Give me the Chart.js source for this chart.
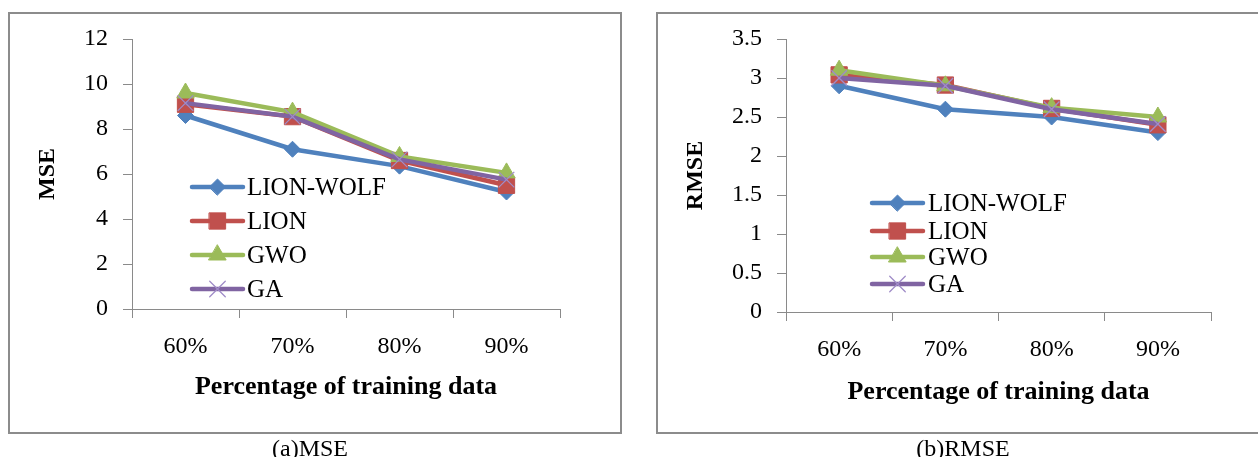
<!DOCTYPE html>
<html><head><meta charset="utf-8">
<script src="https://cdn.jsdelivr.net/npm/chart.js@4.4.1/dist/chart.umd.min.js"></script>
<style>
html,body{margin:0;padding:0;background:#fff;width:1258px;height:457px;overflow:hidden;position:relative;font-family:"Liberation Serif",serif;}
.panel{position:absolute;border:2px solid #8c8c8c;box-sizing:border-box;}
#pa{left:8px;top:12px;width:614px;height:422px;}
#pb{left:656px;top:12px;width:640px;height:422px;}
.cap{position:absolute;top:434px;font-size:24px;line-height:28px;width:300px;text-align:center;color:#000;}
canvas{position:absolute;top:0;}
</style></head>
<body>
<div class="panel" id="pa"></div>
<div class="panel" id="pb"></div>
<canvas id="cA" width="640" height="457" style="left:0"></canvas>
<canvas id="cB" width="618" height="457" style="left:640px"></canvas>
<div class="cap" style="left:160px">(a)MSE</div>
<div class="cap" style="left:813px">(b)RMSE</div>
<script>
// ---- data ----
const categories = ["60%", "70%", "80%", "90%"];
const seriesNames = ["LION-WOLF", "LION", "GWO", "GA"];
const mseLionWolf = [8.6, 7.1, 6.35, 5.2];
const mseLion = [9.1, 8.55, 6.6, 5.5];
const mseGwo = [9.6, 8.75, 6.78, 6.05];
const mseGa = [9.15, 8.55, 6.65, 5.75];
const rmseLionWolf = [2.9, 2.6, 2.5, 2.3];
const rmseLion = [3.04, 2.91, 2.61, 2.4];
const rmseGwo = [3.1, 2.9, 2.62, 2.5];
const rmseGa = [3.0, 2.9, 2.6, 2.41];
const mseTicks = {min: 0, max: 12, step: 2};
const rmseTicks = {min: 0, max: 3.5, step: 0.5};

// ---- styles ----
const styles = [
  {color: "#4F81BD", ptColor: "#4F81BD", pointStyle: "rectRot", radius: 8, pbw: 1},
  {color: "#C0504D", ptColor: "#C0504D", pointStyle: "rect", radius: 11.5, pbw: 1},
  {color: "#9BBB59", ptColor: "#9BBB59", pointStyle: "triangle", radius: 10, pbw: 1},
  {color: "#8064A2", ptColor: "#A08CC8", pointStyle: "crossRot", radius: 11, pbw: 1.3}
];
const AXIS = "#8a8a8a";
const FONT = "'Liberation Serif', 'Times New Roman', serif";

function makeDatasets(arrs) {
  return arrs.map((d, i) => ({
    label: seriesNames[i],
    data: d,
    borderColor: styles[i].color,
    backgroundColor: styles[i].color,
    borderWidth: 4.5,
    pointStyle: styles[i].pointStyle,
    pointRadius: styles[i].radius,
    pointHoverRadius: styles[i].radius,
    pointBackgroundColor: styles[i].ptColor,
    pointBorderColor: styles[i].ptColor,
    pointBorderWidth: styles[i].pbw,
    tension: 0,
    order: arrs.length - i
  }));
}

const insideLegend = {
  id: "insideLegend",
  afterDatasetsDraw(chart, args, opts) {
    const ctx = chart.ctx;
    ctx.save();
    chart.data.datasets.forEach((ds, i) => {
      const y = opts.rows[i];
      ctx.strokeStyle = ds.borderColor;
      ctx.lineWidth = ds.borderWidth;
      ctx.lineCap = "round";
      ctx.beginPath();
      ctx.moveTo(opts.x0, y);
      ctx.lineTo(opts.x1, y);
      ctx.stroke();
      ctx.fillStyle = ds.pointBackgroundColor;
      ctx.strokeStyle = ds.pointBorderColor;
      ctx.lineWidth = ds.pointBorderWidth;
      Chart.helpers.drawPoint(ctx, {pointStyle: ds.pointStyle, radius: ds.pointRadius, borderWidth: ds.pointBorderWidth, rotation: 0}, (opts.x0 + opts.x1) / 2, y);
      ctx.fillStyle = "#000";
      ctx.font = opts.fontSize + "px " + FONT;
      ctx.textBaseline = "middle";
      ctx.textAlign = "left";
      ctx.fillText(ds.label, opts.tx, y + 1);
    });
    ctx.restore();
  }
};

function makeChart(id, arrs, tk, yTitle, lay) {
  return new Chart(document.getElementById(id), {
    type: "line",
    data: {labels: categories, datasets: makeDatasets(arrs)},
    plugins: [insideLegend],
    options: {
      responsive: false,
      animation: false,
      events: [],
      layout: {padding: {left: lay.padL, right: lay.padR, top: lay.padT, bottom: lay.padB}},
      plugins: {
        legend: {display: false},
        tooltip: {enabled: false},
        insideLegend: lay.legend
      },
      scales: {
        x: {
          offset: true,
          grid: {display: true, offset: true, drawOnChartArea: false, drawTicks: true, tickLength: 9, color: AXIS},
          border: {display: true, color: AXIS, width: 1},
          ticks: {color: "#000", padding: 14, font: {family: FONT, size: 24}, maxRotation: 0},
          title: {display: true, text: "Percentage of training data", color: "#000",
                  font: {family: FONT, size: 26, weight: "bold"}, padding: {top: 0, bottom: lay.xTitlePadB}},
          afterFit(s) { s.height = lay.xH; }
        },
        y: {
          min: tk.min, max: tk.max,
          grid: {display: true, drawOnChartArea: false, drawTicks: true, tickLength: 9, color: AXIS},
          border: {display: true, color: AXIS, width: 1},
          ticks: {stepSize: tk.step, color: "#000", padding: 15, font: {family: FONT, size: 24},
                  callback: (v) => String(+Number(v).toFixed(2))},
          title: {display: true, text: yTitle, color: "#000",
                  font: {family: FONT, size: 24, weight: "bold"}, padding: {top: lay.yTitlePadT, bottom: 0}},
          afterFit(s) { s.width = lay.yW; }
        }
      }
    }
  });
}

makeChart("cA", [mseLionWolf, mseLion, mseGwo, mseGa], mseTicks, "MSE", {
  padL: 20, padR: 80, padT: 39, padB: 48, yW: 112, xH: 100, xTitlePadB: 6, yTitlePadT: 13,
  legend: {x0: 192, x1: 243, tx: 247, rows: [187, 221, 255, 289], fontSize: 25}
});
makeChart("cB", [rmseLionWolf, rmseLion, rmseGwo, rmseGa], rmseTicks, "RMSE", {
  padL: 20, padR: 47, padT: 39, padB: 45, yW: 126, xH: 100, xTitlePadB: 4, yTitlePadT: 21,
  legend: {x0: 232, x1: 283, tx: 288, rows: [203, 231, 257, 284], fontSize: 25}
});
</script>
</body></html>
